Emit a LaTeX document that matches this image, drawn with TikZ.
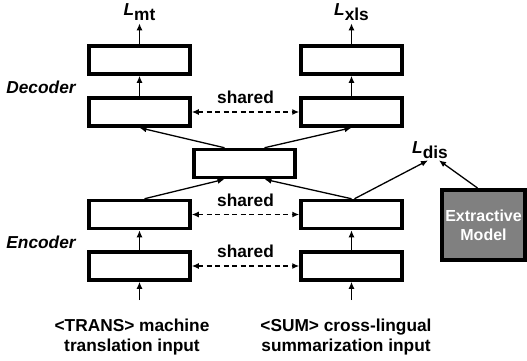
\documentclass[tikz,border=0pt]{standalone}
\usepackage{fontspec}
\setmainfont{Liberation Sans}
\usepackage{tikz}
\usetikzlibrary{arrows.meta, positioning, calc}
\definecolor{extgray}{RGB}{128, 128, 128}

\begin{document}
\begin{tikzpicture}[x=1pt, y=-1pt,
    font=\fontsize{17.3}{19.5}\selectfont\bfseries,
    layer/.style={draw, line width=3.5pt, minimum width=101pt, minimum height=28pt, inner sep=0pt},
    flow/.style={-{Latex[length=7pt, width=6pt]}, line width=1.3pt},
    share/.style={{Latex[length=7pt, width=6pt]}-{Latex[length=7pt, width=6pt]}, line width=1.3pt, dash pattern=on 5pt off 3.5pt},
    loss/.style={inner sep=2pt},
    side/.style={font=\fontsize{17.3}{19.5}\selectfont\bfseries\itshape}]
  \useasboundingbox (0,0) rectangle (527,361);

  % Decoder
  \node[layer] (ldecA) at (139.5, 60) {};
  \node[layer] (ldecB) at (139.5, 112) {};
  \node[layer] (rdecA) at (351.5, 60) {};
  \node[layer] (rdecB) at (351.5, 112) {};
  \node[side] (dec) at (41, 87) {Decoder};

  % Shared middle
  \node[layer] (mid) at (244.5, 163.5) {};

  % Encoder
  \node[layer] (lencA) at (139.5, 214.5) {};
  \node[layer] (lencB) at (139.5, 266) {};
  \node[layer] (rencA) at (351.5, 214.5) {};
  \node[layer] (rencB) at (351.5, 266) {};
  \node[side] (enc) at (41, 242) {Encoder};

  % Losses
  \node[loss, anchor=base] (Lmt) at (139.5, 16) {\textit{L}\raisebox{-5pt}{mt}};
  \node[loss, anchor=base] (Lxls) at (351.5, 16) {\textit{L}\raisebox{-5pt}{xls}};
  \node[loss, anchor=base] (Ldis) at (430, 153) {\textit{L}\raisebox{-5pt}{dis}};

  % Extractive model
  \node[draw, line width=4pt, fill=extgray, text=white, minimum width=83pt, minimum height=70pt, align=center, inner sep=0pt, font=\fontsize{16}{19}\selectfont\bfseries] (ext) at (483.5, 225) {Extractive\\Model};

  % Inputs
  \node[align=center] (lin) at (132, 337) {<TRANS> machine\\translation input};
  \node[align=center] (rin) at (346, 337) {<SUM> cross-lingual\\summarization input};
  \coordinate (lsrc) at (139.5, 300);
  \coordinate (rsrc) at (351.5, 300);

  \draw[flow] (lsrc) -- (lencB);
  \draw[flow] (rsrc) -- (rencB);
  \draw[flow] (lencB) -- (lencA);
  \draw[flow] (rencB) -- (rencA);
  \draw[flow] ([xshift=5pt]lencA.north) -- ([xshift=-20pt]mid.south);
  \draw[flow] (rencA.north) -- ([xshift=20pt]mid.south);
  \draw[flow] ([xshift=-20pt]mid.north) -- (ldecB.south);
  \draw[flow] ([xshift=20pt]mid.north) -- (rdecB.south);
  \draw[flow] (ldecB) -- (ldecA);
  \draw[flow] (rdecB) -- (rdecA);
  \draw[flow] (ldecA) -- (Lmt);
  \draw[flow] (rdecA) -- (Lxls);
  \draw[flow] ([xshift=3pt]rencA.north) -- ([xshift=-2pt]Ldis.south);
  \draw[flow] ([xshift=-6pt]ext.north) -- ([xshift=9pt]Ldis.south);

  % Sharing
  \draw[share] (ldecB) -- (rdecB) node[midway, above=4pt] {shared};
  \draw[share] (lencA) -- (rencA) node[midway, above=4pt] {shared};
  \draw[share] (lencB) -- (rencB) node[midway, above=4pt] {shared};
\end{tikzpicture}
\end{document}
